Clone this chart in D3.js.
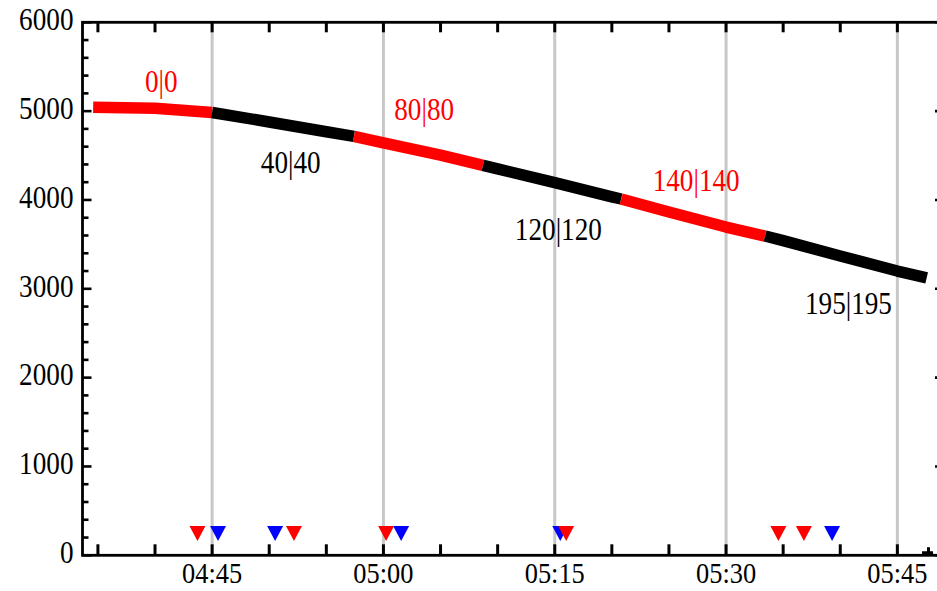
<!DOCTYPE html>
<html><head><meta charset="utf-8">
<script src="https://cdn.jsdelivr.net/npm/d3@7"></script>
<style>
body{margin:0;background:#fff}
svg{display:block}
text{font-family:"Liberation Serif","Times New Roman",serif;font-size:32px}
</style>
</head><body>
<svg id="chart" width="937" height="591"></svg>
<script>
// ---- data ----
const lineTimes = ["04:34:35","04:40:00","04:45:00","04:50:00","04:55:00","04:57:25","05:00:00","05:05:00","05:08:43","05:10:00","05:15:00","05:20:00","05:20:49","05:25:00","05:30:00","05:33:25","05:35:00","05:40:00","05:45:00","05:47:34"];
const lineValues = [5045,5033,4985,4878,4768,4715,4643,4505,4390,4350,4195,4035,4011,3865,3695,3594,3542,3370,3200,3122];
const segmentBreaks = ["04:45:00","04:57:25","05:08:43","05:20:49","05:33:25"];
const segmentColors = ["#ff0000","#000000","#ff0000","#000000","#ff0000","#000000"];

const labelTexts = ["0|0","40|40","80|80","120|120","140|140","195|195"];
const labelTimes = ["04:40:33","04:51:53","05:03:34","05:15:19","05:27:23","05:40:43"];
const labelValues = [5219,4300,4900,3549,4104,2716];
const labelColors = ["#ff0000","#000000","#ff0000","#000000","#ff0000","#000000"];

const redMarkerTimes = ["04:43:43","04:52:10","05:00:14","05:16:00","05:34:35","05:36:49"];
const blueMarkerTimes = ["04:45:31","04:50:31","05:01:33","05:15:29","05:39:17"];
const markerValue = 245;

const yTickValues = [0,1000,2000,3000,4000,5000,6000];
const xTickLabels = ["04:45","05:00","05:15","05:30","05:45"];

// ---- setup ----
const parse = d3.timeParse("%H:%M:%S");
const parseHM = d3.timeParse("%H:%M");
const svg = d3.select("#chart");
svg.append("rect").attr("width",937).attr("height",591).attr("fill","#fff");

const x = d3.scaleTime().domain([parse("04:33:39"), parse("05:49:05")]).range([82.5, 944]);
const y = d3.scaleLinear().domain([0, 6000]).range([555.3, 22.3]);
const [x0, x1] = x.range();
const [yb, yt] = y.range();

// grid lines at labelled ticks
const majorTimes = xTickLabels.map(parseHM);
svg.append("g").selectAll("line").data(majorTimes).join("line")
  .attr("x1", d => x(d)).attr("x2", d => x(d))
  .attr("y1", yt).attr("y2", yb)
  .attr("stroke", "#c8c8c8").attr("stroke-width", 3);

// frame
svg.append("rect").attr("x", x0).attr("y", yt).attr("width", x1 - x0).attr("height", yb - yt)
  .attr("fill", "none").attr("stroke", "#000").attr("stroke-width", 2.8);

// x ticks every 5 minutes (bottom and top)
const minorTimes = d3.timeMinute.every(5).range(x.domain()[0], x.domain()[1]);
const xt = svg.append("g");
xt.selectAll("line.b").data(minorTimes).join("line").attr("class","b")
  .attr("x1", d => x(d)).attr("x2", d => x(d)).attr("y1", yb).attr("y2", yb - 11)
  .attr("stroke", "#000").attr("stroke-width", 3);
xt.selectAll("line.t").data(minorTimes).join("line").attr("class","t")
  .attr("x1", d => x(d)).attr("x2", d => x(d)).attr("y1", yt).attr("y2", yt + 10)
  .attr("stroke", "#000").attr("stroke-width", 3);

// y ticks every 200 (left and right)
const yMinor = d3.range(0, 6001, 200);
const yt2 = svg.append("g");
yt2.selectAll("line.l").data(yMinor).join("line").attr("class","l")
  .attr("x1", x0).attr("x2", d => x0 + (d % 1000 === 0 ? 9 : 6))
  .attr("y1", d => y(d)).attr("y2", d => y(d))
  .attr("stroke", "#000").attr("stroke-width", 2.6);
yt2.selectAll("line.r").data(yMinor).join("line").attr("class","r")
  .attr("x1", x1).attr("x2", d => x1 - (d % 1000 === 0 ? 9 : 6))
  .attr("y1", d => y(d)).attr("y2", d => y(d))
  .attr("stroke", "#000").attr("stroke-width", 2.6);

// small end mark on the bottom axis
svg.append("path")
  .attr("d", `M${x1-22},${yb} L${x1-22},${yb-4} L${x1-17},${yb-4} L${x1-17},${yb-8} L${x1-14},${yb-8} L${x1-14},${yb-4} L${x1-11},${yb-4} L${x1-11},${yb} Z`)
  .attr("fill", "#000");

// y tick labels
svg.append("g").selectAll("text").data(yTickValues).join("text")
  .attr("transform", d => `translate(73.5,${y(d) + 7.7}) scale(0.85,1)`)
  .attr("text-anchor", "end").attr("fill", "#000").text(d => d);

// x tick labels
svg.append("g").selectAll("text").data(majorTimes).join("text")
  .attr("transform", d => `translate(${x(d)},583) scale(0.88,0.95)`)
  .attr("text-anchor", "middle").attr("fill", "#000").style("font-size", "30px")
  .text(d => d3.timeFormat("%H:%M")(d));

// line, split into coloured segments
const pts = lineTimes.map((t, i) => ({t: parse(t), v: lineValues[i]}));
const bounds = [pts[0].t, ...segmentBreaks.map(parse), pts[pts.length - 1].t];
const lineGen = d3.line().x(d => x(d.t)).y(d => y(d.v)).curve(d3.curveLinear);
const segs = segmentColors.map((c, i) => ({
  color: c,
  pts: pts.filter(p => p.t >= bounds[i] && p.t <= bounds[i + 1])
}));
svg.append("g").selectAll("path").data(segs).join("path")
  .attr("d", d => lineGen(d.pts))
  .attr("fill", "none").attr("stroke", d => d.color)
  .attr("stroke-width", 11.5).attr("stroke-linecap", "butt").attr("stroke-linejoin", "round");

// segment labels
svg.append("g").selectAll("text").data(labelTexts).join("text")
  .attr("transform", (d, i) => `translate(${x(parse(labelTimes[i]))},${y(labelValues[i])}) scale(0.85,1)`)
  .attr("text-anchor", "middle").attr("fill", (d, i) => labelColors[i]).text(d => d);

// markers (inverted triangles)
const tri = "M-8,-7.5 L8,-7.5 L0,7.5 Z";
svg.append("g").selectAll("path").data(blueMarkerTimes).join("path")
  .attr("d", tri).attr("fill", "#0000ff")
  .attr("transform", d => `translate(${x(parse(d))},${y(markerValue)})`);
svg.append("g").selectAll("path").data(redMarkerTimes).join("path")
  .attr("d", tri).attr("fill", "#ff0000")
  .attr("transform", d => `translate(${x(parse(d))},${y(markerValue)})`);
</script>
</body></html>
